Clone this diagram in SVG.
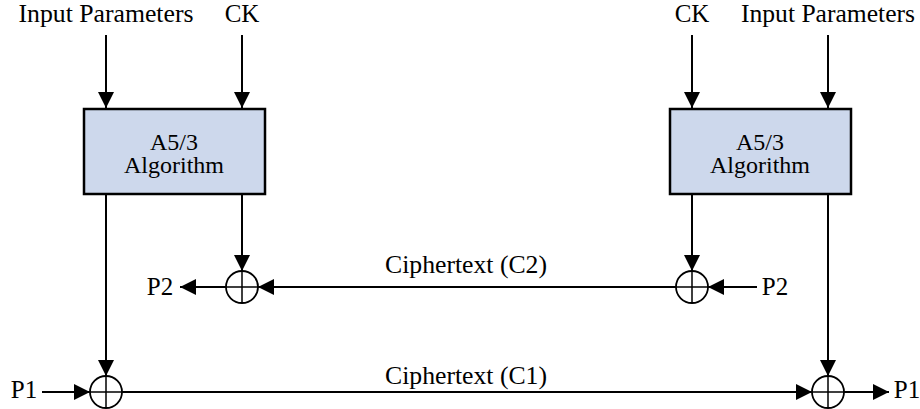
<svg xmlns="http://www.w3.org/2000/svg" width="920" height="409" viewBox="0 0 920 409">
<style>
.box{fill:#cdd8ec;stroke:#000;stroke-width:2.5}
.ln{stroke:#000;stroke-width:1.5;fill:none}
.arr{stroke:#000;stroke-width:2;fill:none;marker-end:url(#ah)}
.xor{fill:#fff;stroke:#000;stroke-width:1.8}
</style>
<defs>
<marker id="ah" markerUnits="userSpaceOnUse" markerWidth="16" markerHeight="16" refX="16" refY="8" orient="auto">
<path d="M0,0 L16,8 L0,16 z" fill="#000"/>
</marker>
</defs>
<rect width="920" height="409" fill="#fff"/>
<g id="labels">
<text x="106" y="22" font-family="Liberation Serif" font-size="25" text-anchor="middle" textLength="175" lengthAdjust="spacingAndGlyphs">Input Parameters</text>
<text x="242" y="22" font-family="Liberation Serif" font-size="25" text-anchor="middle">CK</text>
<text x="692" y="22" font-family="Liberation Serif" font-size="25" text-anchor="middle">CK</text>
<text x="828" y="22" font-family="Liberation Serif" font-size="25" text-anchor="middle" textLength="174" lengthAdjust="spacingAndGlyphs">Input Parameters</text>
<text x="160" y="295" font-family="Liberation Serif" font-size="25" text-anchor="middle">P2</text>
<text x="775" y="295" font-family="Liberation Serif" font-size="25" text-anchor="middle">P2</text>
<text x="24" y="398" font-family="Liberation Serif" font-size="25" text-anchor="middle">P1</text>
<text x="907" y="398" font-family="Liberation Serif" font-size="25" text-anchor="middle">P1</text>
<text x="466" y="273" font-family="Liberation Serif" font-size="25" text-anchor="middle" textLength="162" lengthAdjust="spacingAndGlyphs">Ciphertext (C2)</text>
<text x="466" y="384" font-family="Liberation Serif" font-size="25" text-anchor="middle" textLength="162" lengthAdjust="spacingAndGlyphs">Ciphertext (C1)</text>
</g>
<g id="connectors">
<line class="arr" x1="106" y1="35" x2="106" y2="108"/>
<line class="arr" x1="242" y1="35" x2="242" y2="108"/>
<line class="arr" x1="692" y1="35" x2="692" y2="108"/>
<line class="arr" x1="828" y1="35" x2="828" y2="108"/>
<line class="arr" x1="106" y1="195" x2="106" y2="376"/>
<line class="arr" x1="242" y1="195" x2="242" y2="271"/>
<line class="arr" x1="692" y1="195" x2="692" y2="271"/>
<line class="arr" x1="828" y1="195" x2="828" y2="376"/>
<line class="arr" x1="676" y1="287" x2="258" y2="287"/>
<line class="arr" x1="226" y1="287" x2="180" y2="287"/>
<line class="arr" x1="757" y1="287" x2="708" y2="287"/>
<line class="arr" x1="42" y1="392" x2="90" y2="392"/>
<line class="arr" x1="122" y1="392" x2="812" y2="392"/>
<line class="arr" x1="844" y1="392" x2="889" y2="392"/>
</g>
<g id="alg-left">
<rect class="box" x="84" y="109" width="181" height="85"/>
<text font-family="Liberation Serif" font-size="24" text-anchor="middle"><tspan x="174" y="150">A5/3</tspan><tspan x="174" y="173">Algorithm</tspan></text>
</g>
<g id="alg-right">
<rect class="box" x="670" y="109" width="181" height="85"/>
<text font-family="Liberation Serif" font-size="24" text-anchor="middle"><tspan x="760" y="150">A5/3</tspan><tspan x="760" y="173">Algorithm</tspan></text>
</g>
<g id="xor-c2-left">
<circle class="xor" cx="242" cy="287" r="16"/>
<path class="ln" d="M226,287 H258 M242,271 V303"/>
</g>
<g id="xor-c2-right">
<circle class="xor" cx="692" cy="287" r="16"/>
<path class="ln" d="M676,287 H708 M692,271 V303"/>
</g>
<g id="xor-c1-left">
<circle class="xor" cx="106" cy="392" r="16"/>
<path class="ln" d="M90,392 H122 M106,376 V408"/>
</g>
<g id="xor-c1-right">
<circle class="xor" cx="828" cy="392" r="16"/>
<path class="ln" d="M812,392 H844 M828,376 V408"/>
</g>
</svg>
